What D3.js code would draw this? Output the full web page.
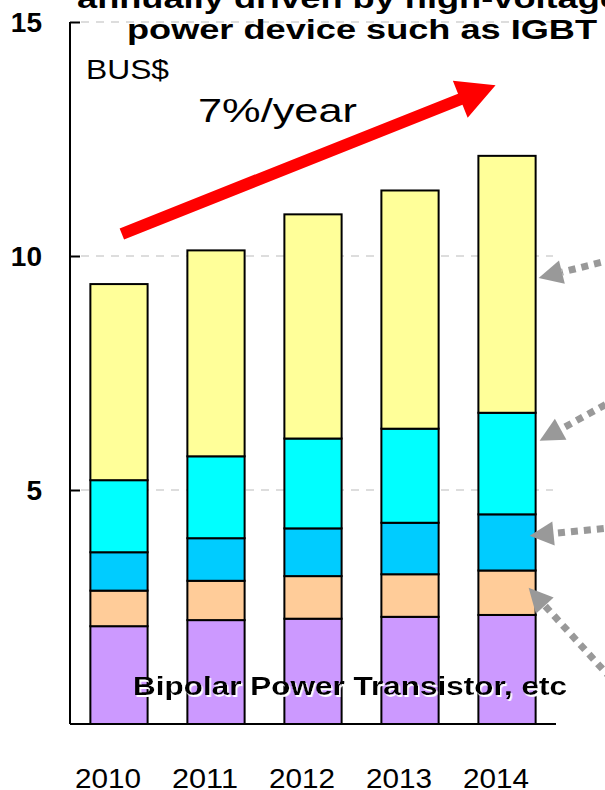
<!DOCTYPE html>
<html>
<head>
<meta charset="utf-8">
<script src="https://cdn.jsdelivr.net/npm/d3@7"></script>
<style>
  html, body { margin: 0; padding: 0; background: #fff; overflow: hidden; }
  svg { display: block; }
</style>
</head>
<body>
<svg id="chart" width="605" height="790"></svg>
<script>
// Market size by device group, BUS$ (stacked from the bottom up)
const years = ["2010", "2011", "2012", "2013", "2014"];
const bipolarEtc = [2.09, 2.22, 2.25, 2.29, 2.33];
const layer2 = [0.76, 0.84, 0.91, 0.91, 0.95];
const layer3 = [0.82, 0.91, 1.02, 1.10, 1.20];
const layer4 = [1.54, 1.75, 1.92, 2.01, 2.17];
const layer5 = [4.19, 4.40, 4.79, 5.09, 5.49];
const seriesKeys = ["bipolarEtc", "layer2", "layer3", "layer4", "layer5"];
const yTicks = [5, 10, 15];
const growthLabel = "7%/year";
const unitLabel = "BUS$";
const titleLines = ["annually driven by high-voltage", "power device such as IGBT"];
const bottomLabel = "Bipolar Power Transistor, etc";
// values on the 2014 bar that the call-out arrows point at
const calloutValues = [9.53, 6.05, 4.02, 2.91];

const colors = {
  bipolarEtc: "#CC99FF",
  layer2: "#FFCC99",
  layer3: "#00CCFF",
  layer4: "#00FFFF",
  layer5: "#FFFF99"
};

const rows = years.map((yr, i) => ({
  year: yr,
  bipolarEtc: bipolarEtc[i],
  layer2: layer2[i],
  layer3: layer3[i],
  layer4: layer4[i],
  layer5: layer5[i]
}));

const svg = d3.select("#chart");
const font = "'Liberation Sans', Arial, sans-serif";

// white drop shadow used behind the bottom-layer label
const defs = svg.append("defs");
defs.append("filter")
  .attr("id", "whiteShadow")
  .attr("x", "-5%").attr("y", "-20%").attr("width", "110%").attr("height", "140%")
  .append("feDropShadow")
  .attr("dx", 1.5).attr("dy", 2).attr("stdDeviation", 0)
  .attr("flood-color", "#ffffff").attr("flood-opacity", 1);

const x = d3.scaleBand().domain(years).range([70, 556]).paddingInner(0.41).paddingOuter(0.21);
const y = d3.scaleLinear().domain([0, 15]).range([724, 22]);

// dashed gridlines
svg.append("g")
  .selectAll("line")
  .data(yTicks)
  .join("line")
  .attr("x1", 81).attr("x2", 553)
  .attr("y1", d => y(d)).attr("y2", d => y(d))
  .attr("stroke", "#bbbbbb")
  .attr("stroke-width", 1)
  .attr("stroke-dasharray", "8 7");

// stacked bars
const stacked = d3.stack().keys(seriesKeys)(rows);
svg.append("g")
  .selectAll("g")
  .data(stacked)
  .join("g")
  .attr("fill", d => colors[d.key])
  .selectAll("rect")
  .data(d => d)
  .join("rect")
  .attr("x", d => x(d.data.year))
  .attr("width", x.bandwidth())
  .attr("y", d => y(d[1]))
  .attr("height", d => y(d[0]) - y(d[1]))
  .attr("stroke", "#000")
  .attr("stroke-width", 2);

// y axis: ticks point inward, labels drawn separately
const yAxis = d3.axisRight(y).tickValues(yTicks).tickSize(10).tickFormat("");
const yg = svg.append("g").attr("transform", "translate(70,0)").call(yAxis);
yg.select(".domain").attr("stroke", "#000").attr("stroke-width", 2)
  .attr("d", `M0,${y(15)}V${y(0)}`);
yg.selectAll(".tick line").attr("stroke", "#000").attr("stroke-width", 2);

svg.append("g")
  .selectAll("text")
  .data(yTicks)
  .join("text")
  .attr("x", 42)
  .attr("y", d => y(d) + 10)
  .attr("text-anchor", "end")
  .attr("font-family", font)
  .attr("font-weight", "bold")
  .attr("font-size", 28)
  .attr("fill", "#000")
  .text(d => d);

// x axis baseline
svg.append("line")
  .attr("x1", 70).attr("x2", 556)
  .attr("y1", y(0)).attr("y2", y(0))
  .attr("stroke", "#000").attr("stroke-width", 2);

// year labels
svg.append("g")
  .selectAll("text")
  .data(years)
  .join("text")
  .attr("x", d => x(d) + x.bandwidth() / 2 - 11)
  .attr("y", 788)
  .attr("text-anchor", "middle")
  .attr("font-family", font)
  .attr("font-size", 28)
  .attr("textLength", 66)
  .attr("lengthAdjust", "spacingAndGlyphs")
  .attr("fill", "#000")
  .text(d => d);

// label for the bottom layer
svg.append("text")
  .attr("x", 133).attr("y", 695)
  .attr("font-family", font)
  .attr("font-weight", "bold")
  .attr("font-size", 26)
  .attr("textLength", 434)
  .attr("lengthAdjust", "spacingAndGlyphs")
  .attr("fill", "#000")
  .attr("filter", "url(#whiteShadow)")
  .text(bottomLabel);

// unit label and growth label
svg.append("text")
  .attr("x", 86).attr("y", 79)
  .attr("font-family", font).attr("font-size", 28)
  .attr("textLength", 83).attr("lengthAdjust", "spacingAndGlyphs")
  .attr("fill", "#000").text(unitLabel);

svg.append("text")
  .attr("x", 198).attr("y", 122)
  .attr("font-family", font).attr("font-size", 33)
  .attr("textLength", 159).attr("lengthAdjust", "spacingAndGlyphs")
  .attr("fill", "#000").text(growthLabel);

// title (runs past the right edge)
svg.append("text")
  .attr("x", 77).attr("y", 8)
  .attr("font-family", font).attr("font-weight", "bold").attr("font-size", 27)
  .attr("textLength", 543).attr("lengthAdjust", "spacingAndGlyphs")
  .attr("fill", "#000").text(titleLines[0]);
svg.append("text")
  .attr("x", 127).attr("y", 39)
  .attr("font-family", font).attr("font-weight", "bold").attr("font-size", 27)
  .attr("textLength", 470).attr("lengthAdjust", "spacingAndGlyphs")
  .attr("fill", "#000").text(titleLines[1]);

// block arrow helper: shaft from (x0,y0) to tip (x1,y1)
function blockArrow(x0, y0, x1, y1, shaftW, headL, headW) {
  const dx = x1 - x0, dy = y1 - y0, len = Math.hypot(dx, dy);
  const ux = dx / len, uy = dy / len, nx = -uy, ny = ux;
  const bx = x1 - ux * headL, by = y1 - uy * headL;
  const p = [
    [x0 + nx * shaftW / 2, y0 + ny * shaftW / 2],
    [bx + nx * shaftW / 2, by + ny * shaftW / 2],
    [bx + nx * headW / 2, by + ny * headW / 2],
    [x1, y1],
    [bx - nx * headW / 2, by - ny * headW / 2],
    [bx - nx * shaftW / 2, by - ny * shaftW / 2],
    [x0 - nx * shaftW / 2, y0 - ny * shaftW / 2]
  ];
  return "M" + p.map(d => d.join(",")).join("L") + "Z";
}

// red growth arrow, anchored on the 2010 and 2014 columns
const ax0 = x("2010") + x.bandwidth() * 0.55, ay0 = y(10.47);
const ax1 = x("2014") + x.bandwidth() * 0.3, ay1 = y(13.65);
svg.append("path")
  .attr("d", blockArrow(ax0, ay0, ax1, ay1, 12, 38, 40))
  .attr("fill", "#ff0000");

// grey dotted call-out arrows coming in from the right
const calloutGeom = [
  { dx: 3, tx: 100, ty: -25 },
  { dx: 4, tx: 100, ty: -55 },
  { dx: -6, tx: 100, ty: -10 },
  { dx: -7, tx: 100, ty: 110 }
];
const barRight = x("2014") + x.bandwidth();
calloutValues.forEach((v, i) => {
  const g = calloutGeom[i];
  const tipX = barRight + g.dx, tipY = y(v);
  const tailX = tipX + g.tx, tailY = tipY + g.ty;
  const len = Math.hypot(g.tx, g.ty);
  const ux = g.tx / len, uy = g.ty / len;
  const headL = 24, headW = 24;
  const bx = tipX + ux * headL, by = tipY + uy * headL;
  svg.append("line")
    .attr("x1", tailX).attr("y1", tailY)
    .attr("x2", bx).attr("y2", by)
    .attr("stroke", "#999999")
    .attr("stroke-width", 7)
    .attr("stroke-dasharray", "7 6");
  const nx = -uy, ny = ux;
  svg.append("path")
    .attr("d", `M${tipX},${tipY}L${bx + nx * headW / 2},${by + ny * headW / 2}L${bx - nx * headW / 2},${by - ny * headW / 2}Z`)
    .attr("fill", "#999999");
});
</script>
</body>
</html>
